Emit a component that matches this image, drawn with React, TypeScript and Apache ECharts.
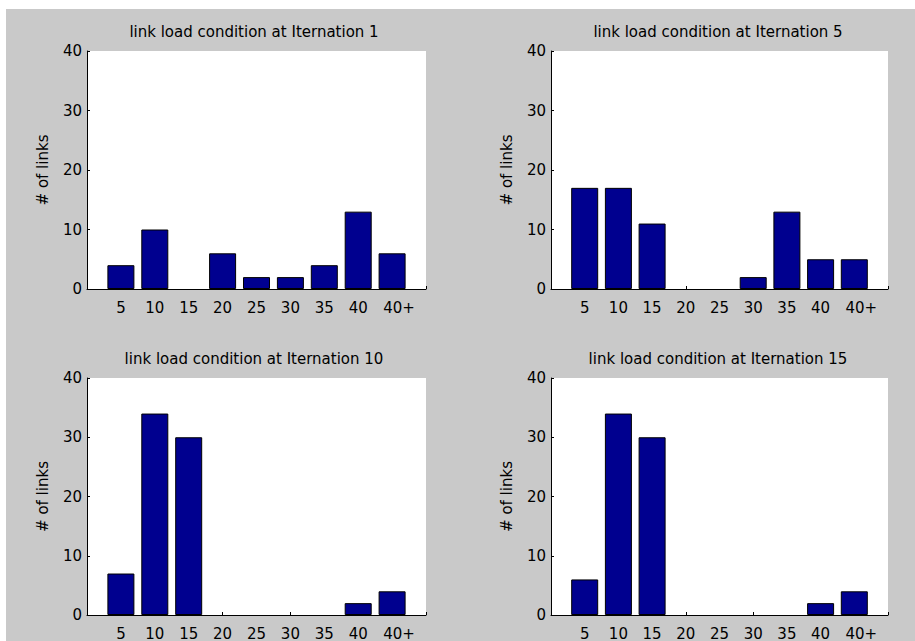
import React, { useEffect, useRef } from 'react';
import * as echarts from 'echarts';

// ---- data ----
const binLabels = ['5', '10', '15', '20', '25', '30', '35', '40', '40+'];
const binPositions = [1, 2, 3, 4, 5, 6, 7, 8, 9];
const iter1 = [4, 10, 0, 6, 2, 2, 4, 13, 6];
const iter5 = [17, 17, 11, 0, 0, 2, 13, 5, 5];
const iter10 = [7, 34, 30, 0, 0, 0, 0, 2, 4];
const iter15 = [6, 34, 30, 0, 0, 0, 0, 2, 4];
const panelTitles = [
  'link load condition at Iternation 1',
  'link load condition at Iternation 5',
  'link load condition at Iternation 10',
  'link load condition at Iternation 15',
];
const seriesList = [iter1, iter5, iter10, iter15];
const yAxisName = '# of links';

const FONT = 'DejaVu Sans';
const FS = 15;

const grids = [
  { left: 81, top: 42, width: 339, height: 238 },
  { left: 545, top: 42, width: 337, height: 238 },
  { left: 81, top: 369, width: 339, height: 240 },
  { left: 545, top: 369, width: 337, height: 240 },
];
const titlePos = [
  { x: 248, y: 15 },
  { x: 712, y: 15 },
  { x: 248, y: 342 },
  { x: 712, y: 342 },
];

export default function App() {
  const ref = useRef<HTMLDivElement>(null);
  useEffect(() => {
    if (!ref.current) return;
    const chart = echarts.init(ref.current, null, { renderer: 'svg' });
    const textBase = { fontFamily: FONT, fontSize: FS, color: '#000' };
    const xAxes: any[] = [];
    const yAxes: any[] = [];
    const series: any[] = [];
    grids.forEach((g, i) => {
      xAxes.push({
        type: 'value',
        gridIndex: i,
        position: 'bottom',
        min: 0,
        max: 10,
        interval: 1,
        axisLine: { show: true, onZero: false, lineStyle: { color: '#000', width: 1 } },
        axisTick: { show: false },
        splitLine: { show: false },
        axisLabel: {
          ...textBase,
          margin: 11,
          showMinLabel: true,
          showMaxLabel: true,
          formatter: (v: number) => {
            const idx = binPositions.indexOf(v);
            if (idx < 0) return '';
            const lab = binLabels[idx];
            return lab === '40+' ? '{p|' + lab + '}' : lab;
          },
          rich: { p: { ...textBase, padding: [0, 0, 0, 14] } },
        },
      });
      xAxes.push({
        type: 'value',
        gridIndex: i,
        position: 'bottom',
        min: 0,
        max: 10,
        interval: 2,
        axisLine: { show: false, onZero: false },
        axisTick: { show: true, inside: true, length: 3, lineStyle: { color: '#000', width: 1 } },
        axisLabel: { show: false },
        splitLine: { show: false },
      });
      yAxes.push({
        type: 'value',
        gridIndex: i,
        min: 0,
        max: 40,
        interval: 10,
        axisLine: { show: true, lineStyle: { color: '#000', width: 1 } },
        axisTick: { show: true, inside: true, length: 3, lineStyle: { color: '#000', width: 1 } },
        splitLine: { show: false },
        axisLabel: { ...textBase, margin: 5 },
        name: yAxisName,
        nameLocation: 'middle',
        nameGap: 37,
        nameTextStyle: { ...textBase },
      });
      series.push({
        type: 'bar',
        xAxisIndex: 2 * i,
        yAxisIndex: i,
        barWidth: 27,
        data: binPositions.map((p, k) => (seriesList[i][k] === 0 ? [p, '-'] : [p, seriesList[i][k]])),
        itemStyle: { color: '#00008f', borderColor: '#000', borderWidth: 1 },
        silent: true,
      });
    });
    chart.setOption({
      animation: false,
      backgroundColor: '#c9c9c9',
      title: panelTitles.map((t, i) => ({
        text: t,
        left: titlePos[i].x,
        top: titlePos[i].y,
        textAlign: 'center',
        padding: 0,
        textStyle: { ...textBase, fontWeight: 'normal' },
      })),
      grid: grids.map((g) => ({ ...g, show: true, backgroundColor: '#fff', borderWidth: 0, containLabel: false })),
      xAxis: xAxes,
      yAxis: yAxes,
      series,
    });
    return () => chart.dispose();
  }, []);
  return (
    <div style={{ position: 'fixed', left: 0, top: 0, width: 915, height: 641, background: '#fff', overflow: 'hidden' }}>
      <div ref={ref} style={{ position: 'absolute', left: 6, top: 9, width: 909, height: 632 }} />
    </div>
  );
}
